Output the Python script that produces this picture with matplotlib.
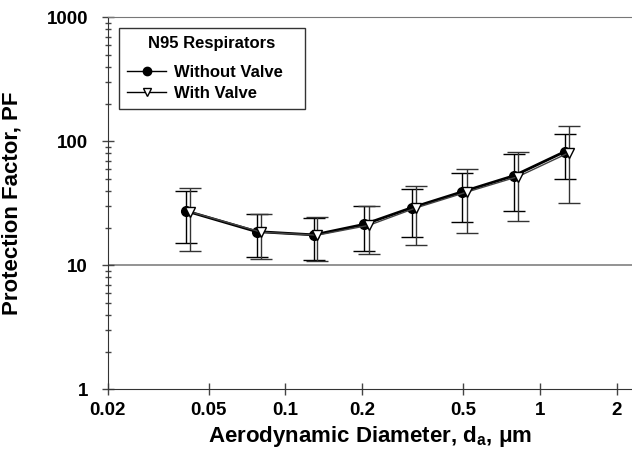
import matplotlib
matplotlib.use("Agg")
import matplotlib.pyplot as plt
from matplotlib.ticker import FixedLocator, NullLocator, LogLocator, NullFormatter

plt.rcParams['font.family'] = ['Liberation Sans', 'DejaVu Sans']
plt.rcParams['font.weight'] = 'bold'

# particle size (um) and protection factors
d_no_valve = [0.0408, 0.0771, 0.1295, 0.204, 0.313, 0.496, 0.791, 1.25]
pf_no_valve = [27.4, 18.7, 17.6, 21.4, 29.1, 39.2, 52.8, 82.4]
lo_no_valve = [15.2, 11.7, 11.0, 13.0, 17.0, 22.5, 27.6, 49.4]
hi_no_valve = [39.7, 25.8, 24.1, 30.3, 41.0, 55.8, 78.6, 115.0]

d_valve = [0.0423, 0.0805, 0.1333, 0.2125, 0.325, 0.517, 0.822, 1.30]
pf_valve = [27.0, 18.5, 17.5, 21.0, 29.0, 39.0, 52.0, 81.0]
lo_valve = [13.0, 11.2, 10.8, 12.4, 14.6, 18.2, 22.9, 32.0]
hi_valve = [41.8, 26.0, 24.3, 30.3, 43.6, 59.8, 82.4, 133.6]

xticks = [0.02, 0.05, 0.1, 0.2, 0.5, 1, 2]
xticklabels = ['0.02', '0.05', '0.1', '0.2', '0.5', '1', '2']

fig = plt.figure(figsize=(6.32, 4.58), dpi=100)
ax = fig.add_axes([0.1701, 0.15, 0.8299, 0.8122])

ax.axhline(10, color='#808080', lw=1.2, zorder=1)

err1 = [[p - l for p, l in zip(pf_no_valve, lo_no_valve)],
        [h - p for p, h in zip(pf_no_valve, hi_no_valve)]]
err2 = [[p - l for p, l in zip(pf_valve, lo_valve)],
        [h - p for p, h in zip(pf_valve, hi_valve)]]

ax.errorbar(d_no_valve, pf_no_valve, yerr=err1, fmt='none', ecolor='black',
            elinewidth=1, capsize=8, capthick=1, zorder=2)
ax.errorbar(d_valve, pf_valve, yerr=err2, fmt='none', ecolor='#333333',
            elinewidth=1, capsize=8, capthick=1, zorder=2)

ax.plot(d_no_valve, pf_no_valve, color='black', lw=2, marker='o', ms=7,
        mfc='black', mec='black', label='Without Valve', zorder=3)
ax.plot(d_valve, pf_valve, color='#444444', lw=1, marker='v', ms=7,
        mfc='white', mec='black', mew=1, label='With Valve', zorder=4)

ax.set_xscale('log')
ax.set_yscale('log')
ax.set_xlim(0.02, 2.3)
ax.set_ylim(1, 1000)

ax.xaxis.set_major_locator(FixedLocator(xticks))
ax.set_xticklabels(xticklabels)
ax.xaxis.set_minor_locator(NullLocator())
ax.yaxis.set_major_locator(FixedLocator([1, 10, 100, 1000]))
ax.set_yticklabels(['1', '10', '100', '1000'])
ax.yaxis.set_minor_locator(LogLocator(base=10, subs=range(2, 10)))
ax.yaxis.set_minor_formatter(NullFormatter())

ax.tick_params(which='major', direction='inout', length=8, width=1,
               labelsize=13.5, color='#444444')
ax.tick_params(which='minor', direction='inout', length=4.5, width=1,
               color='#444444')
ax.tick_params(axis='x', which='major', pad=5)
ax.tick_params(axis='y', which='major', pad=10)

ax.spines['right'].set_visible(False)
ax.spines['top'].set_color('#777777')
for s in ['left', 'bottom']:
    ax.spines[s].set_color('#333333')

ax.set_xlabel(r'Aerodynamic Diameter, d$_\mathregular{a}$, $\mathregular{\mu}$m',
              fontsize=16, fontweight='bold', labelpad=4)
ax.set_ylabel('Protection Factor, PF', fontsize=16, fontweight='bold')
ax.yaxis.set_label_coords(-0.163, 0.5)

leg = ax.legend(title='N95 Respirators', loc='upper left', mode='expand',
                bbox_to_anchor=(0.022, 0.771, 0.3546, 0.2), borderaxespad=0,
                fancybox=False, framealpha=1, edgecolor='#333333',
                prop={'size': 12, 'weight': 'bold'}, handlelength=2.3,
                handletextpad=0.5, borderpad=0.5, labelspacing=0.35)
leg.get_title().set_fontsize(12)
leg.get_title().set_fontweight('bold')
leg.get_frame().set_linewidth(1)
leg._legend_box.sep = 10
for ln in leg.get_lines():
    ln.set_linewidth(1)
    ln.set_color('black')
    ln.set_markersize(6)

fig.savefig('out.png', dpi=100)
